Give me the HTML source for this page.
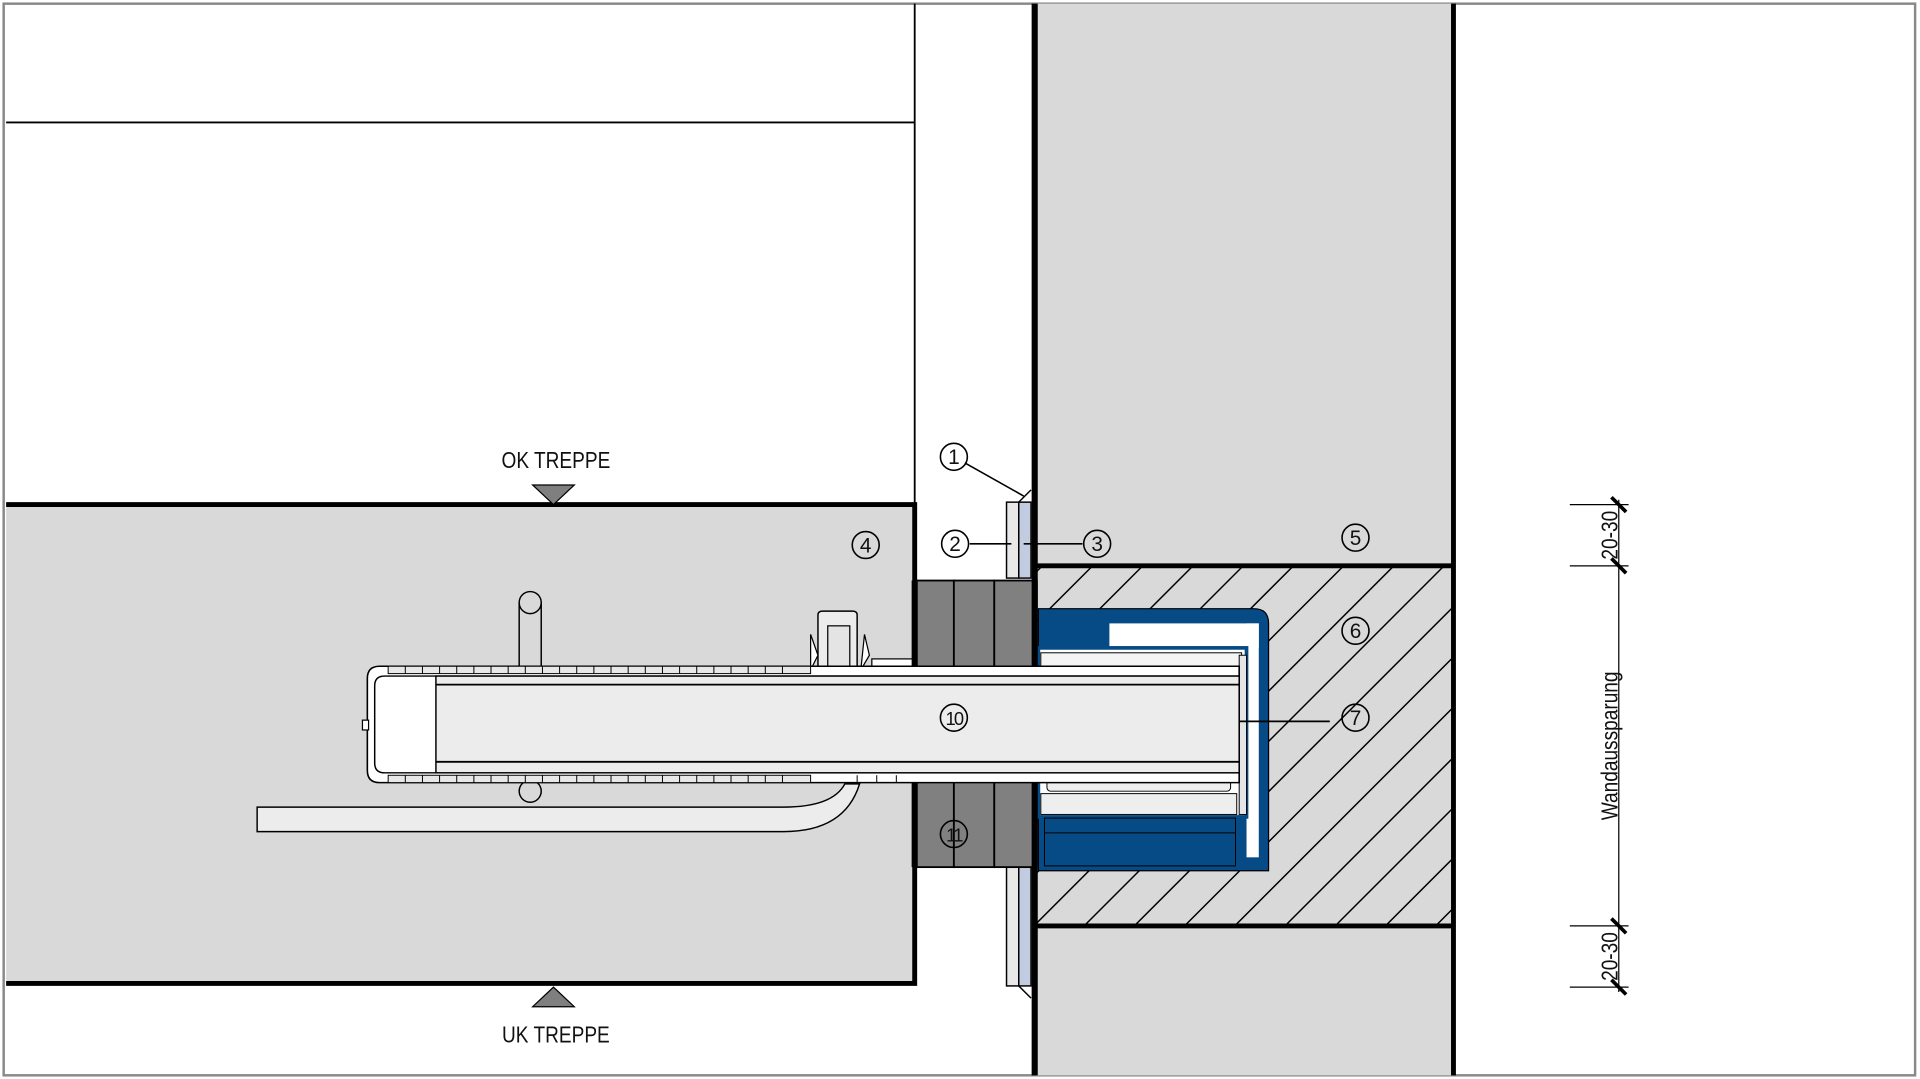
<!DOCTYPE html>
<html><head><meta charset="utf-8"><style>
html,body{margin:0;padding:0;background:#fff;width:1920px;height:1079px;overflow:hidden}
svg{display:block}
text{font-family:"Liberation Sans",sans-serif;fill:#111}
</style></head><body>
<svg width="1920" height="1079" viewBox="0 0 1568 881" preserveAspectRatio="none" xmlns="http://www.w3.org/2000/svg">
<defs>
<pattern id="h" patternUnits="userSpaceOnUse" width="29" height="29" patternTransform="rotate(45)">
<rect width="29" height="29" fill="#d9d9d9"/>
<line x1="0" y1="0" x2="0" y2="29" stroke="#000" stroke-width="2.4"/>
</pattern>
<g id="circ"><circle r="11" fill="none" stroke="#000" stroke-width="1.3"/></g>
</defs>
<rect x="0" y="0" width="1568" height="881" fill="#fff"/>
<rect x="3" y="3" width="1561" height="875" fill="none" stroke="#888" stroke-width="2"/>
<line x1="747" y1="3" x2="747" y2="412" stroke="#000" stroke-width="1.5"/>
<line x1="5" y1="100" x2="747" y2="100" stroke="#000" stroke-width="1.5"/>
<rect x="845" y="3" width="342" height="875" fill="#d9d9d9"/>
<rect x="845" y="462" width="342" height="294" fill="url(#h)"/>
<line x1="845" y1="462" x2="1187" y2="462" stroke="#000" stroke-width="4"/>
<line x1="845" y1="756" x2="1187" y2="756" stroke="#000" stroke-width="4"/>
<line x1="845" y1="3" x2="845" y2="878" stroke="#000" stroke-width="5"/>
<line x1="1187" y1="3" x2="1187" y2="878" stroke="#000" stroke-width="4"/>
<rect x="5" y="412" width="742" height="391" fill="#d9d9d9"/>
<polyline points="5,412 747,412 747,803 5,803" fill="none" stroke="#000" stroke-width="4"/>
<rect x="822" y="410" width="10" height="62" fill="#e8e8e8" stroke="#000" stroke-width="1.2"/>
<rect x="832" y="410" width="10" height="62" fill="#c2cce0" stroke="#000" stroke-width="1.2"/>
<rect x="822" y="708" width="10" height="97" fill="#e8e8e8" stroke="#000" stroke-width="1.2"/>
<rect x="832" y="708" width="10" height="97" fill="#c2cce0" stroke="#000" stroke-width="1.2"/>
<line x1="832" y1="805" x2="842" y2="815" stroke="#000" stroke-width="1.2"/>
<line x1="832" y1="410" x2="842" y2="400" stroke="#000" stroke-width="1.2"/>
<path d="M848,497 H1024 Q1036,497 1036,509 V711 H848 Z" fill="#064a86" stroke="#000" stroke-width="1"/>
<rect x="906" y="509" width="122" height="20" fill="#fff"/>
<rect x="1018" y="509" width="10" height="191" fill="#fff"/>
<rect x="848" y="529" width="170" height="138" fill="#fff" stroke="#064a86" stroke-width="3"/>
<rect x="850" y="533" width="164" height="18" fill="#f4f4f4" stroke="#000" stroke-width="0.8"/>
<rect x="855" y="630" width="150" height="16" rx="3" fill="#eee" stroke="#000" stroke-width="0.8"/>
<rect x="850" y="648" width="160" height="17" fill="#eee" stroke="#000" stroke-width="0.8"/>
<rect x="853" y="668" width="156" height="39" fill="#064a86" stroke="#000" stroke-width="0.8"/>
<line x1="853" y1="680" x2="1009" y2="680" stroke="#000" stroke-width="0.8"/>
<rect x="1012" y="535" width="6" height="130" fill="#e5e5e5" stroke="#000" stroke-width="0.8"/>
<g fill="#808080" stroke="#000" stroke-width="1.5">
<rect x="747" y="474" width="32" height="77"/><rect x="779" y="474" width="33" height="77"/><rect x="812" y="474" width="33" height="77"/>
<rect x="747" y="629" width="32" height="79"/><rect x="779" y="629" width="33" height="79"/><rect x="812" y="629" width="33" height="79"/>
</g>
<line x1="747" y1="474" x2="747" y2="551" stroke="#000" stroke-width="5"/>
<line x1="845" y1="474" x2="845" y2="551" stroke="#000" stroke-width="5"/>
<line x1="747" y1="629" x2="747" y2="708" stroke="#000" stroke-width="5"/>
<line x1="845" y1="629" x2="845" y2="708" stroke="#000" stroke-width="5"/>
<path d="M210,659 H640 Q680,659 690,640 H702 Q690,679 640,679 H210 Z" fill="#ececec" stroke="#000" stroke-width="1.2"/>
<rect x="424" y="492" width="18" height="52" fill="#d9d9d9" stroke="#000" stroke-width="1.2"/>
<circle cx="433" cy="492" r="9" fill="#d9d9d9" stroke="#000" stroke-width="1.2"/>
<circle cx="433" cy="646" r="9" fill="#d9d9d9" stroke="#000" stroke-width="1.2"/>
<path d="M668,547 V502 Q668,499 672,499 H696 Q700,499 700,502 V547 Z" fill="#ececec" stroke="#000" stroke-width="1.2"/>
<rect x="676" y="511" width="18" height="36" fill="#e4e4e4" stroke="#000" stroke-width="1"/>
<path d="M662,547 L662,518 L668,535 Z M703,547 L706,518 L710,535 Z" fill="#fff" stroke="#000" stroke-width="1"/>
<rect x="712" y="538" width="33" height="10" fill="#fff" stroke="#000" stroke-width="1"/>
<path d="M310,544 H1012 V639 H310 Q300,639 300,629 V554 Q300,544 310,544 Z" fill="#fff" stroke="#000" stroke-width="1.3"/>
<rect x="296" y="588" width="5" height="8" fill="#fff" stroke="#000" stroke-width="1"/>
<g fill="#e8e8e8" stroke="#000" stroke-width="0.8">
<rect x="317" y="544" width="345" height="6"/>
<rect x="317" y="633" width="345" height="6"/>
</g>
<g stroke="#000" stroke-width="0.8">
<path d="M331,544v6M345,544v6M359,544v6M373,544v6M387,544v6M401,544v6M415,544v6M429,544v6M443,544v6M457,544v6M471,544v6M485,544v6M499,544v6M513,544v6M527,544v6M541,544v6M555,544v6M569,544v6M583,544v6M597,544v6M611,544v6M625,544v6M639,544v6"/>
<path d="M331,633v6M345,633v6M359,633v6M373,633v6M387,633v6M401,633v6M415,633v6M429,633v6M443,633v6M457,633v6M471,633v6M485,633v6M499,633v6M513,633v6M527,633v6M541,633v6M555,633v6M569,633v6M583,633v6M597,633v6M611,633v6M625,633v6M639,633v6M700,633v6M716,633v6M732,633v6"/>
</g>
<path d="M314,552 H1012 V631 H314 Q306,631 306,623 V560 Q306,552 314,552 Z" fill="#fff" stroke="#000" stroke-width="1.2"/>
<rect x="356" y="552" width="656" height="79" fill="#ececec" stroke="#000" stroke-width="1.2"/>
<line x1="356" y1="559" x2="1012" y2="559" stroke="#000" stroke-width="1.5"/>
<line x1="356" y1="622" x2="1012" y2="622" stroke="#000" stroke-width="1.5"/>
<line x1="1012" y1="589" x2="1086" y2="589" stroke="#000" stroke-width="1.5"/>
<line x1="788" y1="378" x2="836" y2="405" stroke="#000" stroke-width="1.3"/>
<line x1="792" y1="444" x2="826" y2="444" stroke="#000" stroke-width="1.3"/>
<line x1="836" y1="444" x2="884" y2="444" stroke="#000" stroke-width="1.3"/>
<g font-size="17" text-anchor="middle">
<use href="#circ" x="779" y="373"/><text x="779" y="379">1</text>
<use href="#circ" x="780" y="444"/><text x="780" y="450">2</text>
<use href="#circ" x="896" y="444"/><text x="896" y="450">3</text>
<use href="#circ" x="707" y="445"/><text x="707" y="451">4</text>
<use href="#circ" x="1107" y="439"/><text x="1107" y="445">5</text>
<use href="#circ" x="1107" y="515"/><text x="1107" y="521">6</text>
<use href="#circ" x="1107" y="586"/><text x="1107" y="592">7</text>
<use href="#circ" x="779" y="586"/><text x="779" y="592" font-size="15" letter-spacing="-1.5">10</text>
<use href="#circ" x="779" y="681"/><text x="779" y="687" font-size="15" letter-spacing="-1.5">11</text>
</g>
<polygon points="435,396 469,396 452,412" fill="#7f7f7f" stroke="#000" stroke-width="1"/>
<polygon points="435,822 469,822 452,806" fill="#7f7f7f" stroke="#000" stroke-width="1"/>
<text x="454" y="382" font-size="19" text-anchor="middle" transform="translate(454 0) scale(0.82 1) translate(-454 0)">OK TREPPE</text>
<text x="454" y="851" font-size="19" text-anchor="middle" transform="translate(454 0) scale(0.82 1) translate(-454 0)">UK TREPPE</text>
<g stroke="#000" stroke-width="1">
<line x1="1322" y1="408" x2="1322" y2="810"/>
<line x1="1282" y1="412" x2="1330" y2="412"/>
<line x1="1282" y1="462" x2="1330" y2="462"/>
<line x1="1282" y1="756" x2="1330" y2="756"/>
<line x1="1282" y1="806" x2="1330" y2="806"/>
</g>
<g stroke="#000" stroke-width="3">
<line x1="1316" y1="406" x2="1328" y2="418"/>
<line x1="1316" y1="456" x2="1328" y2="468"/>
<line x1="1316" y1="750" x2="1328" y2="762"/>
<line x1="1316" y1="800" x2="1328" y2="812"/>
</g>
<g font-size="19" text-anchor="middle">
<text transform="translate(1321 437) rotate(-90) scale(0.82 1)">20-30</text>
<text transform="translate(1321 781) rotate(-90) scale(0.82 1)">20-30</text>
<text transform="translate(1321 609) rotate(-90) scale(0.82 1)">Wandaussparung</text>
</g>
</svg>
</body></html>
